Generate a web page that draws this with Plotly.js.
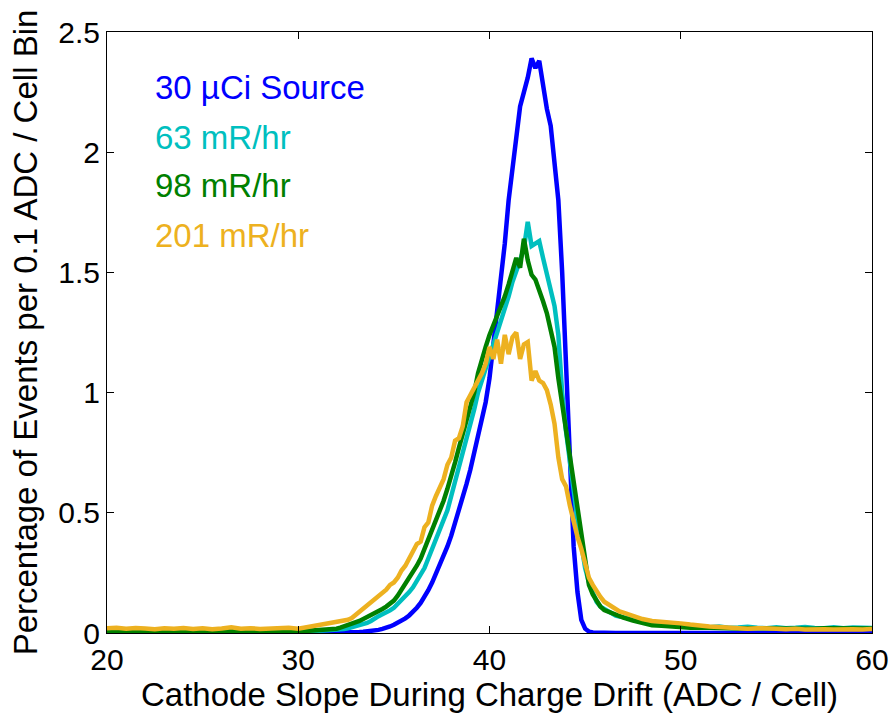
<!DOCTYPE html>
<html>
<head>
<meta charset="utf-8">
<script src="https://cdn.plot.ly/plotly-3.0.1.min.js"></script>
<style>html,body{margin:0;padding:0;background:#fff;}#chart{width:892px;height:713px;}</style>
</head>
<body>
<div id="chart"></div>
<script>
// Bin centres (ADC / Cell)
const slope = [
 20,20.5,21,21.5,22,22.5,23,23.5,24,24.5,25,25.5,26,26.5,27,27.5,28,28.5,29,29.5,30,30.5,31,31.5,
 32.0,32.2,32.4,32.6,32.8,33.0,33.2,33.4,33.6,33.8,34.0,34.2,34.4,34.6,34.8,35.0,35.2,35.4,35.6,35.8,
 36.0,36.2,36.4,36.6,36.8,37.0,37.2,37.4,37.6,37.8,38.0,38.2,38.4,38.6,38.8,39.0,39.2,39.4,39.6,39.8,
 40.0,40.2,40.4,40.6,40.8,41.0,41.2,41.4,41.6,41.8,42.0,42.2,42.4,42.6,42.8,43.0,43.2,43.4,43.6,43.8,
 44.0,44.2,44.4,44.6,44.8,45.0,45.2,45.4,45.6,45.8,46.0,46.2,46.4,46.6,46.8,47.0,
 47.5,48,48.5,49,49.5,50,50.5,51,51.5,52,52.5,53,53.5,54,54.5,55,55.5,56,56.5,57,57.5,58,58.5,59,59.5,60
];

const source30uCi = [
 0,0,0,0,0,0,0,0,0,0,0,0,0,0,0,0,0,0,0,0,0,0,0.001,0.001,
 0.001,0.001,0.002,0.002,0.003,0.003,0.004,0.005,0.006,0.008,0.010,0.013,0.017,0.021,0.027,0.034,0.042,0.051,0.061,0.073,
 0.088,0.105,0.125,0.150,0.178,0.210,0.245,0.280,0.320,0.360,0.405,0.455,0.510,0.560,0.620,0.680,0.750,0.810,0.880,0.960,
 1.06,1.20,1.33,1.44,1.62,1.80,1.93,2.04,2.19,2.25,2.31,2.39,2.35,2.38,2.28,2.18,2.11,1.95,1.80,1.50,
 1.10,0.66,0.36,0.17,0.055,0.018,0.006,0.002,0.001,0,0,0,0,0,0,0,
 0,0,0,0,0,0,0,0,0,0,0,0,0,0,0,0,0,0,0,0,0,0,0,0,0,0
];

const rate63 = [
 0.006,0.005,0.006,0.007,0.005,0.006,0.006,0.005,0.007,0.006,0.005,0.006,0.007,0.006,0.005,0.006,0.007,0.006,0.006,0.007,0.006,0.007,0.009,0.011,
 0.012,0.014,0.017,0.020,0.024,0.027,0.031,0.036,0.042,0.050,0.062,0.070,0.078,0.085,0.094,0.105,0.120,0.135,0.150,0.170,
 0.190,0.215,0.245,0.270,0.310,0.350,0.390,0.420,0.470,0.510,0.570,0.630,0.680,0.740,0.800,0.870,0.930,1.00,1.05,1.10,
 1.15,1.20,1.25,1.29,1.34,1.40,1.46,1.50,1.55,1.60,1.71,1.61,1.62,1.63,1.56,1.49,1.44,1.36,1.24,1.00,
 0.84,0.71,0.59,0.47,0.37,0.27,0.21,0.165,0.130,0.110,0.100,0.092,0.084,0.072,0.068,0.066,
 0.056,0.045,0.036,0.034,0.030,0.027,0.029,0.025,0.024,0.027,0.022,0.023,0.026,0.022,0.020,0.024,0.020,0.022,0.025,0.021,0.020,0.024,0.020,0.023,0.022,0.021
];

const rate98 = [
 0.008,0.007,0.009,0.008,0.007,0.008,0.009,0.007,0.008,0.009,0.007,0.008,0.008,0.009,0.007,0.008,0.009,0.008,0.007,0.009,0.008,0.009,0.011,0.014,
 0.018,0.022,0.027,0.032,0.038,0.045,0.050,0.058,0.066,0.072,0.080,0.090,0.100,0.110,0.120,0.135,0.155,0.180,0.200,0.225,
 0.250,0.280,0.310,0.350,0.385,0.420,0.460,0.500,0.550,0.600,0.650,0.710,0.770,0.830,0.880,0.940,1.00,1.08,1.14,1.19,
 1.24,1.28,1.31,1.36,1.40,1.45,1.51,1.56,1.52,1.64,1.55,1.49,1.47,1.43,1.38,1.33,1.26,1.19,1.06,0.95,
 0.84,0.73,0.61,0.50,0.39,0.28,0.20,0.160,0.130,0.110,0.095,0.088,0.080,0.075,0.068,0.064,
 0.052,0.040,0.032,0.030,0.027,0.024,0.022,0.023,0.021,0.020,0.021,0.019,0.020,0.018,0.020,0.019,0.018,0.020,0.019,0.018,0.020,0.019,0.018,0.019,0.018,0.019
];

const rate201 = [
 0.020,0.022,0.018,0.021,0.019,0.016,0.020,0.018,0.021,0.017,0.020,0.016,0.019,0.024,0.018,0.020,0.017,0.019,0.021,0.022,0.018,0.025,0.030,0.036,
 0.042,0.046,0.050,0.055,0.062,0.075,0.085,0.100,0.110,0.125,0.140,0.150,0.165,0.180,0.200,0.210,0.230,0.260,0.280,0.310,
 0.335,0.370,0.380,0.440,0.460,0.530,0.570,0.610,0.640,0.700,0.730,0.800,0.810,0.860,0.960,0.990,1.02,1.05,1.08,1.12,
 1.19,1.14,1.22,1.12,1.24,1.16,1.23,1.25,1.14,1.20,1.21,1.05,1.09,1.05,1.04,1.01,0.95,0.87,0.73,0.64,
 0.61,0.53,0.46,0.40,0.35,0.28,0.23,0.200,0.170,0.150,0.130,0.120,0.105,0.100,0.090,0.085,
 0.070,0.058,0.050,0.048,0.044,0.040,0.035,0.030,0.027,0.025,0.022,0.020,0.018,0.020,0.017,0.018,0.016,0.018,0.015,0.017,0.016,0.015,0.017,0.016,0.015,0.017
];

const seriesNames = ['30 \u00B5Ci Source', '63 mR/hr', '98 mR/hr', '201 mR/hr'];
const seriesData = [source30uCi, rate63, rate98, rate201];
const seriesColors = ['#0000FF', '#00BFBF', '#008000', '#EDB120'];
const legendY = [0.908, 0.824, 0.744, 0.661];

const FONT = 'Liberation Sans, Arial, Helvetica, sans-serif';

const traces = seriesData.map((ys, i) => ({
  type: 'scatter', mode: 'lines', x: slope, y: ys, name: seriesNames[i],
  line: {color: seriesColors[i], width: 4.5}, hoverinfo: 'skip'
}));

const annotations = seriesNames.map((t, i) => ({
  text: t, xref: 'paper', yref: 'paper', x: 0.06, y: legendY[i],
  xanchor: 'left', yanchor: 'middle', showarrow: false,
  font: {family: FONT, size: 33, color: seriesColors[i]}
}));

const layout = {
  width: 892, height: 713,
  margin: {l: 107, r: 20, t: 32, b: 80},
  paper_bgcolor: '#fff', plot_bgcolor: '#fff',
  showlegend: false,
  font: {family: FONT, color: '#000'},
  xaxis: {
    range: [20, 60], tickvals: [20, 30, 40, 50, 60], ticktext: ['20','30','40','50','60'],
    ticks: 'inside', ticklen: 7, tickwidth: 1, tickcolor: '#000',
    showline: true, linecolor: '#000', linewidth: 1, mirror: 'ticks',
    showgrid: false, zeroline: false,
    tickfont: {family: FONT, size: 30, color: '#000'},
    title: {text: 'Cathode Slope During Charge Drift (ADC / Cell)', font: {family: FONT, size: 33, color: '#000'}, standoff: 3}
  },
  yaxis: {
    range: [0, 2.5], tickvals: [0, 0.5, 1, 1.5, 2, 2.5], ticktext: ['0','0.5','1','1.5','2','2.5'],
    ticks: 'inside', ticklen: 7, tickwidth: 1, tickcolor: '#000',
    showline: true, linecolor: '#000', linewidth: 1, mirror: 'ticks',
    showgrid: false, zeroline: false,
    tickfont: {family: FONT, size: 30, color: '#000'},
    title: {text: 'Percentage of Events per 0.1 ADC / Cell Bin', font: {family: FONT, size: 33, color: '#000'}, standoff: 10}
  },
  annotations: annotations
};

Plotly.newPlot('chart', traces, layout, {displayModeBar: false, staticPlot: true});
</script>
</body>
</html>
